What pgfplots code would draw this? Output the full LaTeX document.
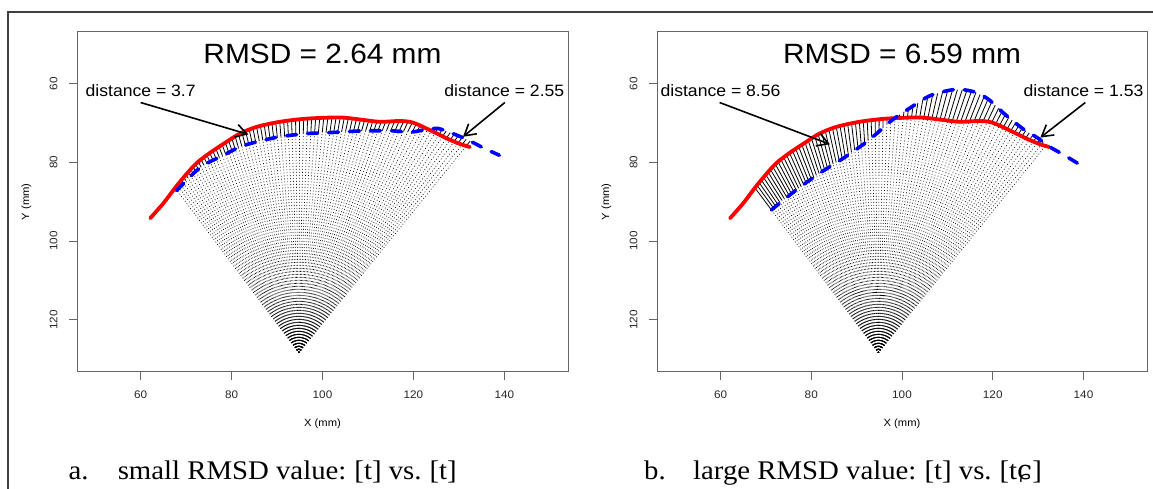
\documentclass[border=0pt]{standalone}
\usepackage{pgfplots}
\pgfplotsset{compat=1.18}
\usepackage{pgfplotstable}
\usepackage{fontspec}
\setmainfont{Liberation Sans}[FakeStretch=1.07]
\newfontfamily\capfont{Liberation Serif}[FakeStretch=1.07]
\newfontfamily\ipafont{DejaVu Serif}
\usetikzlibrary{arrows.meta}

\pgfplotstableread{
x y
62.1 -94.2
65.0 -90.4
67.9 -86.0
70.9 -81.9
72.7 -79.8
75.6 -77.3
78.9 -74.8
81.8 -72.7
85.5 -71.0
90.6 -69.7
96.5 -68.9
103.8 -68.6
108.8 -69.2
112.6 -69.7
117.0 -69.5
119.9 -69.9
123.6 -71.8
127.3 -73.9
130.2 -75.3
132.4 -76.1
}\redcurve

\pgfplotstableread{
x y
67.9 -87.2
72.0 -82.4
74.5 -80.3
78.2 -78.2
81.8 -76.1
85.5 -74.8
90.6 -73.5
96.5 -72.7
102.4 -72.4
108.8 -72.0
115.3 -72.0
119.5 -72.3
123.0 -71.6
125.5 -71.4
127.5 -72.2
130.0 -73.3
132.8 -74.8
135.7 -76.5
138.9 -78.2
}\blueA

\pgfplotstableread{
x y
71.2 -92.1
76.7 -87.0
81.8 -82.8
87.0 -79.0
92.1 -74.9
95.1 -72.0
98.0 -69.1
102.4 -65.7
106.1 -63.1
110.4 -61.7
113.2 -61.5
116.5 -62.3
119.3 -64.2
122.2 -67.3
125.0 -70.0
127.3 -72.0
129.9 -73.8
132.3 -75.9
135.2 -77.8
138.8 -80.3
}\blueB

\pgfplotsset{
  fandot/.style={black, line width=0.6bp, dash pattern=on 0.9bp off 2.1bp, forget plot},
  fansolid/.style={black, line width=0.8bp, forget plot},
  fan/.style={anchor=south west, height=340bp, scale only axis, hide axis,
    xmin=-48.8, xmax=59.2, ymin=-4.8, ymax=81.6, data cs=polar},
  rmain/.style={anchor=south west, height=340bp, scale only axis,
    xmin=46, xmax=154, ymin=-133.2, ymax=-46.8,
    xtick={60,80,100,120,140}, xticklabels={60,80,100,120,140},
    ytick={-120,-100,-80,-60}, yticklabels={120,100,80,60},
    tick pos=left, tick align=outside, major tick length=8bp,
    axis line style={black!60, line width=0.8bp},
    tick style={black!60, line width=0.8bp},
    /pgf/number format/assume math mode=true,
    ticklabel style={font=\fontsize{11}{12}\selectfont, text=black!85},
    xticklabel shift=8bp, yticklabel shift=8bp,
    xticklabel style={anchor=north},
    yticklabel style={rotate=90, anchor=south},
    xlabel={X (mm)}, ylabel={Y (mm)},
    xlabel style={at={(axis description cs:0.5,-0.1530)}, anchor=center, font=\fontsize{10.5}{12}\selectfont},
    ylabel style={at={(axis description cs:-0.1030,0.5)}, anchor=center, font=\fontsize{10.5}{12}\selectfont},
  },
  redline/.style={color={rgb,255:red,255;green,0;blue,0}, line width=3.8bp, line cap=round, smooth, tension=0.5},
  blueline/.style={color={rgb,255:red,0;green,0;blue,255}, line width=3.6bp, line cap=round, dash pattern=on 10bp off 11bp, smooth, tension=0.5},
  arr/.style={black, line width=1.6bp, -{Straight Barb[length=11bp,width=13bp]}},
}

\begin{document}
\begin{tikzpicture}
\useasboundingbox (0,0) rectangle (1153bp,489bp);
\draw[line width=1.6bp, black!75] (1153bp,477bp) -- (8bp,477bp) -- (8bp,0bp);

% ---------- panel a : fan ----------
\begin{axis}[fan, at={(77bp,117.3bp)}, width=491bp]
\foreach \a/\n/\f in {123.00/49.25/50.01,122.15/49.52/50.31,121.30/49.79/50.65,120.45/50.05/50.99,119.60/50.32/51.32,118.75/50.59/51.66,117.90/50.86/52.00,117.05/51.13/52.34,116.20/51.38/52.68,115.35/51.59/53.03,114.50/51.81/53.37,113.65/52.02/53.64,112.80/52.22/53.90,111.95/52.34/54.17,111.10/52.47/54.43,110.25/52.59/54.70,109.40/52.71/54.98,108.55/52.83/55.25,107.70/53.01/55.52,106.85/53.21/55.80,106.00/53.41/56.10,105.15/53.61/56.42,104.30/53.81/56.74,103.45/53.95/57.07,102.60/54.06/57.32,101.75/54.16/57.53,100.90/54.27/57.74,100.05/54.37/57.94,99.20/54.48/58.15,98.35/54.58/58.27,97.50/54.68/58.38,96.65/54.79/58.50,95.80/54.89/58.62,94.95/54.99/58.73,94.10/55.09/58.85,93.25/55.18/58.95,92.40/55.28/59.05,91.55/55.37/59.15,90.70/55.46/59.25,89.85/55.55/59.35,89.00/55.65/59.45,88.15/55.74/59.55,87.30/55.85/59.67,86.45/55.96/59.78,85.60/56.08/59.90,84.75/56.19/60.02,83.90/56.30/60.13,83.05/56.41/60.25,82.20/56.53/60.37,81.35/56.75/60.48,80.50/56.97/60.54,79.65/57.19/60.61,78.80/57.40/60.67,77.95/57.62/60.73,77.10/57.84/60.80,76.25/58.06/60.89,75.40/58.32/61.02,74.55/58.59/61.14,73.70/58.85/61.26,72.85/59.12/61.46,72.00/59.39/61.82,71.15/59.65/62.18,70.30/59.92/62.54,69.45/60.20/62.90,68.60/60.49/63.15,67.75/60.78/63.39,66.90/61.07/63.63,66.05/61.45/63.63,65.20/62.13/63.60,64.35/62.81/63.56,63.50/63.48/63.53,62.65/63.51/64.08,61.80/63.49/64.67,60.95/63.48/64.85,60.10/63.47/64.98,59.25/63.46/65.10,58.40/63.56/65.23,57.55/63.66/65.36,56.70/63.77/65.46,55.85/63.95/65.56,55.00/64.20/65.66}{%
  \edef\temp{\noexpand\addplot[fandot] coordinates {(\a,0) (\a,\n)};\noexpand\addplot[fansolid] coordinates {(\a,\n) (\a,\f)};}\temp}
\end{axis}

% ---------- panel a : main ----------
\begin{axis}[rmain, at={(77bp,117.3bp)}, width=491bp]
\addplot[redline] table {\redcurve};
\addplot[blueline] table {\blueA};
\addplot[arr] coordinates {(60,-64.8) (83.7,-72.9)};
\addplot[arr] coordinates {(140.1,-64.8) (130.9,-73.5)};
\node[anchor=base, font=\fontsize{28}{30}\selectfont] at (axis cs:100,-54.83) {RMSD = 2.64 mm};
\node[anchor=base, font=\fontsize{16.5}{18}\selectfont] at (axis cs:60,-63.32) {distance = 3.7};
\node[anchor=base, font=\fontsize{16.5}{18}\selectfont] at (axis cs:140,-63.32) {distance = 2.55};
\end{axis}

% ---------- panel b : fan ----------
\begin{axis}[fan, at={(657bp,117.3bp)}, width=490bp]
\foreach \a/\n/\f in {123.00/43.31/50.01,122.15/43.48/50.31,121.30/43.64/50.65,120.45/43.81/50.99,119.60/43.98/51.32,118.75/44.15/51.66,117.90/44.32/52.00,117.05/44.49/52.34,116.20/44.66/52.68,115.35/44.83/53.03,114.50/45.00/53.37,113.65/45.17/53.64,112.80/45.41/53.90,111.95/45.66/54.17,111.10/45.91/54.43,110.25/46.15/54.70,109.40/46.40/54.98,108.55/46.65/55.25,107.70/46.90/55.52,106.85/47.14/55.80,106.00/47.39/56.10,105.15/47.70/56.42,104.30/48.02/56.74,103.45/48.34/57.07,102.60/48.65/57.32,101.75/48.97/57.53,100.90/49.29/57.74,100.05/49.61/57.94,99.20/49.92/58.15,98.35/50.37/58.27,97.50/50.87/58.38,96.65/51.37/58.50,95.80/51.87/58.62,94.95/52.36/58.73,94.10/52.86/58.85,93.25/53.36/58.95,92.40/54.00/59.05,91.55/54.76/59.15,90.70/55.51/59.25,89.85/56.27/59.35,89.00/57.15/59.45,88.15/58.06/59.55,87.30/58.97/59.67,86.45/59.78/59.84,85.60/59.90/60.68,84.75/60.02/61.52,83.90/60.13/62.36,83.05/60.25/63.20,82.20/60.37/64.11,81.35/60.48/65.02,80.50/60.54/65.93,79.65/60.61/66.62,78.80/60.67/67.19,77.95/60.73/67.75,77.10/60.80/68.32,76.25/60.89/68.73,75.40/61.02/69.07,74.55/61.14/69.38,73.70/61.26/69.44,72.85/61.46/69.50,72.00/61.82/69.56,71.15/62.18/69.36,70.30/62.54/69.09,69.45/62.90/68.82,68.60/63.15/68.44,67.75/63.39/67.98,66.90/63.63/67.53,66.05/63.63/67.07,65.20/63.60/66.71,64.35/63.56/66.39,63.50/63.53/66.07,62.65/63.51/65.75,61.80/63.49/65.53,60.95/63.48/65.32,60.10/63.47/65.10,59.25/63.46/65.04,58.40/63.56/64.98,57.55/63.66/64.93,56.70/63.77/64.83,55.85/63.95/64.71,55.00/64.20/64.60}{%
  \edef\temp{\noexpand\addplot[fandot] coordinates {(\a,0) (\a,\n)};\noexpand\addplot[fansolid] coordinates {(\a,\n) (\a,\f)};}\temp}
\end{axis}

% ---------- panel b : main ----------
\begin{axis}[rmain, at={(657bp,117.3bp)}, width=490bp]
\addplot[redline] table {\redcurve};
\addplot[blueline] table {\blueB};
\addplot[arr] coordinates {(59.8,-64.8) (84.1,-75.4)};
\addplot[arr] coordinates {(140.4,-64.8) (130.5,-73.7)};
\node[anchor=base, font=\fontsize{28}{30}\selectfont] at (axis cs:100,-54.83) {RMSD = 6.59 mm};
\node[anchor=base, font=\fontsize{16.5}{18}\selectfont] at (axis cs:60,-63.32) {distance = 8.56};
\node[anchor=base, font=\fontsize{16.5}{18}\selectfont] at (axis cs:140,-63.32) {distance = 1.53};
\end{axis}

% ---------- captions ----------
\node[anchor=base west, inner sep=0pt, font=\capfont\fontsize{27}{30}\selectfont] at (68.4bp,10bp) {a.};
\node[anchor=base west, inner sep=0pt, font=\capfont\fontsize{27}{30}\selectfont] at (117.6bp,10bp) {small RMSD value:\hspace{8bp}[t] vs.\hspace{8bp}[t]};
\node[anchor=base west, inner sep=0pt, font=\capfont\fontsize{27}{30}\selectfont] at (644bp,10bp) {b.};
\node[anchor=base west, inner sep=0pt, font=\capfont\fontsize{27}{30}\selectfont] at (693bp,10bp) {large RMSD value:\hspace{8bp}[t] vs.\hspace{8bp}[t{\ipafont ɕ}]};
\end{tikzpicture}
\end{document}
